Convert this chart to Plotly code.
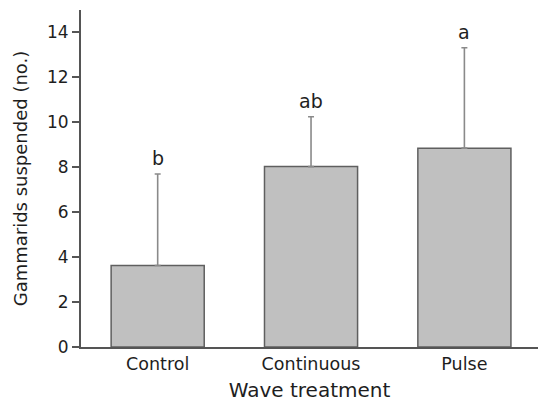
import plotly.graph_objects as go

categories = ["Control", "Continuous", "Pulse"]
means = [3.63, 8.03, 8.85]
upper = [7.70, 10.25, 13.32]
letters = ["b", "ab", "a"]
y_ticks = [0, 2, 4, 6, 8, 10, 12, 14]

err_up = [u - m for u, m in zip(upper, means)]
xs = list(range(len(categories)))

FONT = "DejaVu Sans, sans-serif"
TXT = "#1e1e1e"

fig = go.Figure()
fig.add_trace(go.Bar(
    x=xs, y=means,
    width=0.607,
    marker=dict(color="#c0c0c0", line=dict(color="#5f5f5f", width=1.5)),
    error_y=dict(type="data", symmetric=False, array=err_up,
                 arrayminus=[0] * len(means),
                 color="#8a8a8a", thickness=1.6, width=3),
    showlegend=False,
))

for x, u, t in zip(xs, upper, letters):
    fig.add_annotation(x=x, y=u, text=t, showarrow=False, yanchor="bottom",
                       yshift=3, font=dict(family=FONT, size=19, color=TXT))

fig.update_layout(
    template="none",
    width=538, height=404,
    margin=dict(l=81, r=0, t=10, b=57),
    paper_bgcolor="white", plot_bgcolor="white",
    font=dict(family=FONT, color=TXT),
    xaxis=dict(
        range=[-0.5, 2.48], tickmode="array", tickvals=xs, ticktext=categories,
        showline=True, linecolor="#555", linewidth=2, ticks="",
        showgrid=False, zeroline=False, automargin=True,
        tickfont=dict(size=17.5, color=TXT),
        title=dict(text="Wave treatment", font=dict(size=20, color=TXT), standoff=10),
    ),
    yaxis=dict(
        range=[0, 15], tickmode="array", tickvals=y_ticks,
        showline=True, linecolor="#555", linewidth=2,
        ticks="outside", ticklen=7, tickcolor="#555", tickwidth=1.5,
        showgrid=False, zeroline=False, automargin=True,
        tickfont=dict(size=17, color=TXT),
        title=dict(text="Gammarids suspended (no.)", font=dict(size=18, color=TXT), standoff=15),
    ),
)

fig.write_html("out.html", config={"displayModeBar": False},
               post_script="document.body.style.margin='0';")
